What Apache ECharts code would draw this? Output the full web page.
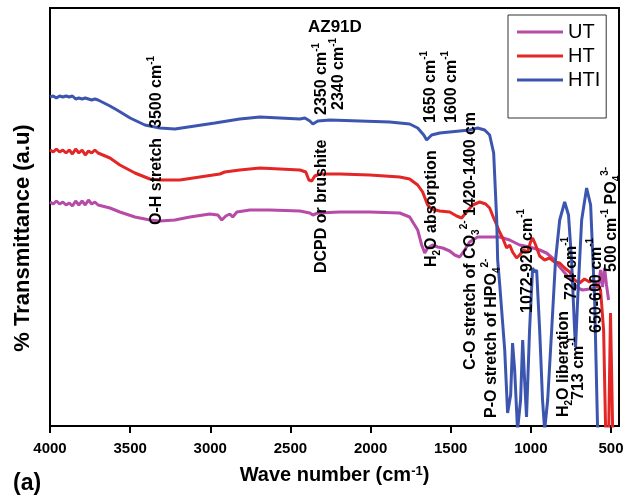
<!DOCTYPE html>
<html>
<head>
<meta charset="utf-8">
<script src="https://cdn.jsdelivr.net/npm/echarts@6/dist/echarts.min.js"></script>
<style>
  html, body { margin: 0; padding: 0; background: #fff; }
  #chart { width: 633px; height: 498px; }
</style>
</head>
<body>
<div id="chart"></div>
<script>
// wave numbers (cm-1) and transmittance (a.u.)
const utWave = [4000, 3980, 3960, 3940, 3920, 3900, 3880, 3860, 3840, 3820, 3800, 3780, 3760, 3740, 3720, 3700,
  3688, 3626, 3564, 3470, 3377, 3314, 3221, 3127, 3003, 2953, 2928, 2903, 2878, 2860, 2834, 2753, 2628, 2441,
  2379, 2360, 2329, 2192, 2005, 1818, 1756, 1706, 1681, 1662, 1644, 1612, 1581, 1550, 1506, 1475, 1444, 1413,
  1382, 1332, 1257, 1195, 1132, 1070, 1008, 945, 902, 865, 820, 777, 740, 708, 677, 634, 602, 578, 565, 553,
  540, 528, 515];
const utT = [224, 222, 225, 222, 224, 221, 223, 220, 225, 221, 225, 221, 226, 222, 224, 221,
  223, 218, 214, 209, 206, 205, 206, 209, 212, 211, 206, 210, 212, 209, 214, 216, 216, 215,
  213, 211, 213, 214, 214, 213, 209, 196, 181, 173, 178, 181, 179, 178, 175, 171, 169, 176,
  184, 189, 189, 189, 186, 181, 179, 176, 173, 168, 159, 151, 144, 138, 136, 137, 138, 141, 156, 139,
  158, 141, 126];

const htWave = [4000, 3980, 3960, 3940, 3920, 3900, 3880, 3860, 3840, 3820, 3800, 3780, 3760, 3740, 3720, 3700,
  3688, 3626, 3564, 3470, 3377, 3314, 3190, 3065, 2940, 2910, 2816, 2690, 2566, 2441, 2404, 2385, 2367, 2348,
  2317, 2192, 2005, 1818, 1756, 1706, 1675, 1644, 1619, 1569, 1506, 1463, 1432, 1401, 1363, 1319, 1282, 1257,
  1232, 1213, 1195, 1176, 1151, 1132, 1114, 1089, 1070, 1045, 1020, 1002, 989, 970, 945, 914, 883, 852, 820,
  789, 758, 727, 696, 665, 634, 609, 584, 565, 546, 534, 515, 503, 490, 484];
const htT = [276, 274, 277, 274, 276, 273, 276, 272, 277, 273, 276, 271, 275, 273, 276, 273,
  274, 268, 261, 253, 247, 246, 246, 249, 252, 254, 256, 258, 257, 256, 254, 246, 245, 250,
  252, 252, 251, 249, 247, 241, 234, 221, 217, 215, 214, 210, 208, 214, 221, 224, 222, 218,
  208, 201, 194, 188, 178, 181, 174, 168, 171, 176, 174, 184, 188, 181, 170, 166, 168, 164, 163,
  158, 154, 146, 143, 147, 144, 146, 140, 136, 96, 0, -14, 113, 0, -14];

const htiWave = [4000, 3980, 3960, 3940, 3920, 3900, 3880, 3860, 3840, 3820, 3800, 3780, 3760, 3740, 3720, 3700,
  3688, 3626, 3582, 3500, 3408, 3314, 3221, 3096, 2971, 2816, 2690, 2566, 2441, 2410, 2379, 2360, 2329, 2254,
  2067, 1880, 1756, 1706, 1668, 1650, 1619, 1569, 1444, 1382, 1332, 1288, 1257, 1232, 1213, 1207, 1195, 1163,
  1145, 1126, 1114, 1101, 1083, 1064, 1051, 1039, 1027, 1008, 989, 977, 964, 945, 927, 914, 895, 870, 846,
  820, 789, 765, 746, 727, 721, 708, 683, 652, 627, 602, 584, 571];
const htiT = [329, 330, 328, 330, 329, 330, 329, 330, 327, 328, 327, 328, 327, 326, 327, 326,
  325, 320, 316, 308, 301, 298, 297, 300, 303, 307, 309, 308, 307, 308, 305, 302, 305, 306,
  305, 304, 302, 298, 291, 286, 291, 293, 295, 296, 298, 296, 291, 273, 206, 166, 143, 76,
  13, 31, 83, 56, -4, 26, 86, 46, 9, 96, 158, 154, 156, 96, 26, -4, 26, 96, 166,
  206, 224, 211, 166, 96, 79, 126, 206, 238, 221, 126, 0, -14];

const xTicks = [500, 1000, 1500, 2000, 2500, 3000, 3500, 4000];

// rotated peak annotations: [wave number, transmittance at the text's lower end, rich text]
const notes = [
  [3333, 201, '{b|O-H stretch}'],
  [3333, 298, '{b|3500 cm}{sup|-1}'],
  [2304, 153, '{b|DCPD or brushite}'],
  [2304, 311, '{b|2350 cm}{sup|-1}'],
  [2198, 316, '{b|2340 cm}{sup|-1}'],
  [1619, 159, '{b|H}{sub|2}{b|O absorption}'],
  [1625, 303, '{b|1650 cm}{sup|-1}'],
  [1494, 303, '{b|1600 cm}{sup|-1}'],
  [1375, 56, '{b|C-O stretch of CO}{sub|3}{sup|2-}{b| 1420-1400 cm}'],
  [1245, 8, '{b|P-O stretch of HPO}{sub|4}{sup|2-}'],
  [1020, 113, '{b|1072-920 cm}{sup|-1}'],
  [796, 9, '{b|H}{sub|2}{b|O liberation}'],
  [746, 126, '{b|724 cm}{sup|-1}'],
  [702, 26, '{b|713 cm}{sup|-1}'],
  [590, 93, '{b|650-600 cm}{sup|-1}'],
  [497, 154, '{b|500 cm}{sup|-1}{b| PO}{sub|4}{sup|3-}']
];

const FONT = '"Liberation Sans", Arial, sans-serif';
const zip = (xs, ys) => xs.map((x, i) => [x, ys[i]]);

const chart = echarts.init(document.getElementById('chart'));

const lineSeries = (name, color, xs, ys) => ({
  name, type: 'line', data: zip(xs, ys),
  symbol: 'none', showSymbol: false, smooth: false, clip: true,
  lineStyle: { color, width: 3 }, itemStyle: { color },
  emphasis: { disabled: true }
});

chart.setOption({
  animation: false,
  backgroundColor: '#fff',
  title: {
    text: 'AZ91D', left: 303, top: 14,
    textStyle: { fontFamily: FONT, fontWeight: 'bold', fontSize: 17, color: '#000' }
  },
  legend: {
    data: ['UT', 'HT', 'HTI'],
    icon: 'rect',
    orient: 'vertical', left: 508, top: 15,
    padding: [7, 6, 28, 9], itemGap: 4, itemWidth: 46, itemHeight: 3,
    borderColor: '#333', borderWidth: 1, backgroundColor: '#fff',
    textStyle: { fontFamily: FONT, fontSize: 20, color: '#000', lineHeight: 20 }
  },
  grid: {
    left: 50, right: 14, top: 8, bottom: 72,
    show: true, borderColor: '#000', borderWidth: 2
  },
  xAxis: {
    type: 'value', min: 450, max: 4000, inverse: true,
    name: 'Wave number (cm{sup|-1})', nameLocation: 'middle', nameGap: 39,
    nameTextStyle: {
      fontFamily: FONT, fontWeight: 'bold', fontSize: 20, color: '#000',
      rich: { sup: { fontFamily: FONT, fontWeight: 'bold', fontSize: 13, verticalAlign: 'top', lineHeight: 14, color: '#000' } }
    },
    axisLine: { onZero: false, lineStyle: { color: '#000', width: 2 } },
    axisTick: { customValues: xTicks, length: 7, lineStyle: { color: '#000', width: 2 } },
    axisLabel: {
      customValues: xTicks, margin: 15, formatter: (v) => String(v),
      fontFamily: FONT, fontWeight: 'bold', fontSize: 15, color: '#000'
    },
    splitLine: { show: false }
  },
  yAxis: {
    type: 'value', min: 0, max: 418,
    axisLine: { show: true, lineStyle: { color: '#000', width: 2 } },
    axisTick: { show: false }, axisLabel: { show: false }, splitLine: { show: false }
  },
  series: [
    lineSeries('UT', '#B64BA8', utWave, utT),
    lineSeries('HT', '#E32626', htWave, htT),
    lineSeries('HTI', '#3C55AF', htiWave, htiT)
  ]
});

const rich = {
  b: { fontFamily: FONT, fontWeight: 'bold', fontSize: 16, lineHeight: 22, verticalAlign: 'middle', fill: '#000' },
  sup: { fontFamily: FONT, fontWeight: 'bold', fontSize: 10, lineHeight: 10, verticalAlign: 'top', fill: '#000' },
  sub: { fontFamily: FONT, fontWeight: 'bold', fontSize: 10, lineHeight: 10, verticalAlign: 'bottom', fill: '#000' }
};

const graphics = notes.map(([wn, v, txt]) => {
  const [px, py] = chart.convertToPixel({ xAxisIndex: 0, yAxisIndex: 0 }, [wn, v]);
  return {
    type: 'text', x: px, y: py, rotation: Math.PI / 2, z: 100,
    style: { text: txt, rich, align: 'left', verticalAlign: 'middle', fill: '#000' }
  };
});
// y axis title, centred a little below the plot middle as in the source figure
graphics.push({
  type: 'text', x: 23, y: 238, rotation: Math.PI / 2, z: 100,
  style: { text: '% Transmittance (a.u)', font: 'bold 22px ' + FONT, fill: '#000', align: 'center', verticalAlign: 'middle' }
});
graphics.push({
  type: 'text', left: 13, top: 472, z: 100,
  style: { text: '(a)', font: 'bold 23px ' + FONT, fill: '#000' }
});

chart.setOption({ graphic: graphics });
</script>
</body>
</html>
